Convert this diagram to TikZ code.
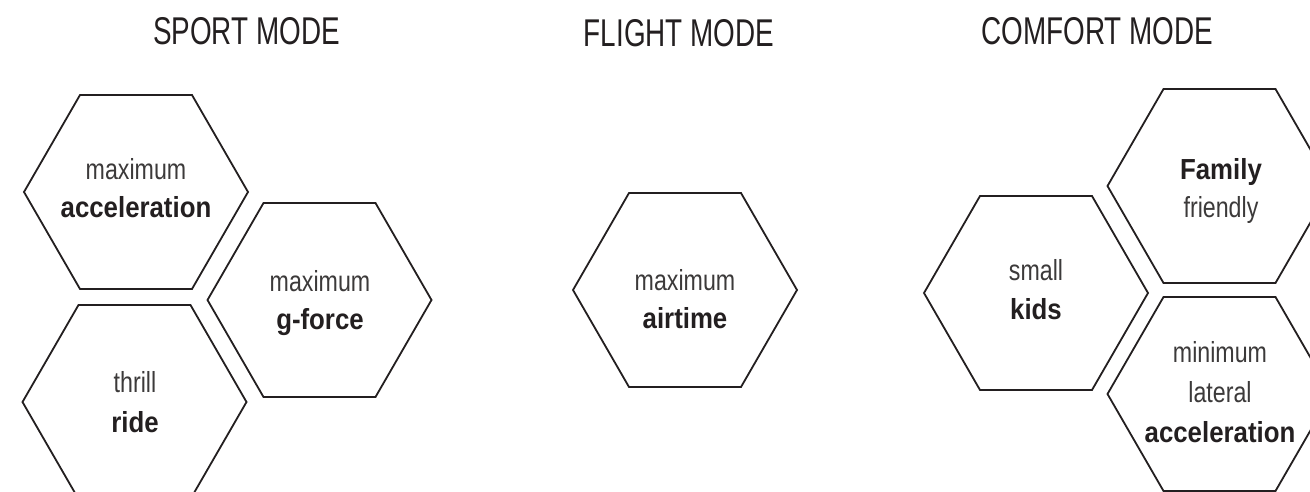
\documentclass[tikz,border=0pt]{standalone}
\usepackage{fontspec}
\usetikzlibrary{shapes.geometric}
\newfontfamily\titlefont[FakeStretch=0.72]{Liberation Sans}
\newfontfamily\lightfont[FakeStretch=0.80]{Liberation Sans}
\newfontfamily\heavyfont[FakeStretch=0.89]{Liberation Sans Bold}
\definecolor{ink}{RGB}{35,31,32}
\definecolor{txt}{RGB}{60,58,58}
\begin{document}
\begin{tikzpicture}[x=1pt,y=-1pt,
  hexa/.style={regular polygon, regular polygon sides=6, minimum size=224pt,
    inner sep=0pt, outer sep=0pt, draw=ink, line width=1.8pt},
  lt/.style={anchor=base, inner sep=0pt, text=txt, font=\lightfont\fontsize{29}{35}\selectfont},
  bt/.style={anchor=base, inner sep=0pt, text=ink, font=\heavyfont\fontsize{29}{35}\selectfont},
  ttl/.style={anchor=base, inner sep=0pt, text=ink, font=\titlefont\fontsize{38.7}{42}\selectfont}]
\useasboundingbox (0,0) rectangle (1310,492);
\fill[white] (0,0) rectangle (1310,492);
\clip (0,0) rectangle (1310,492);

% titles
\node[ttl] (tsport) at (246.5,45) {SPORT MODE};
\node[ttl] (tflight) at (679,47) {FLIGHT MODE};
\node[ttl] (tcomfort) at (1097.5,45) {COMFORT MODE};

% sport mode
\node[hexa] (hA) at (136,192) {};
\node[hexa] (hB) at (319.5,300) {};
\node[hexa] (hC) at (134.5,402) {};
\node[lt] (a1) at (136,179) {maximum};
\node[bt] (a2) at (136,218) {acceleration};
\node[lt] (b1) at (320,291) {maximum};
\node[bt] (b2) at (320,329) {g-force};
\node[lt] (c1) at (135,392) {thrill};
\node[bt] (c2) at (135,432) {ride};

% flight mode
\node[hexa] (hF) at (685,290) {};
\node[lt] (f1) at (685,290) {maximum};
\node[bt] (f2) at (685,328) {airtime};

% comfort mode
\node[hexa] (hK) at (1036,293) {};
\node[hexa] (hFam) at (1219.5,186) {};
\node[hexa] (hMin) at (1219.5,394) {};
\node[lt] (k1) at (1036,280) {small};
\node[bt] (k2) at (1036,319) {kids};
\node[bt] (m1) at (1221,179) {Family};
\node[lt] (m2) at (1221,217) {friendly};
\node[lt] (n1) at (1220,362) {minimum};
\node[lt] (n2) at (1220,402) {lateral};
\node[bt] (n3) at (1220,442) {acceleration};
\end{tikzpicture}
\end{document}
